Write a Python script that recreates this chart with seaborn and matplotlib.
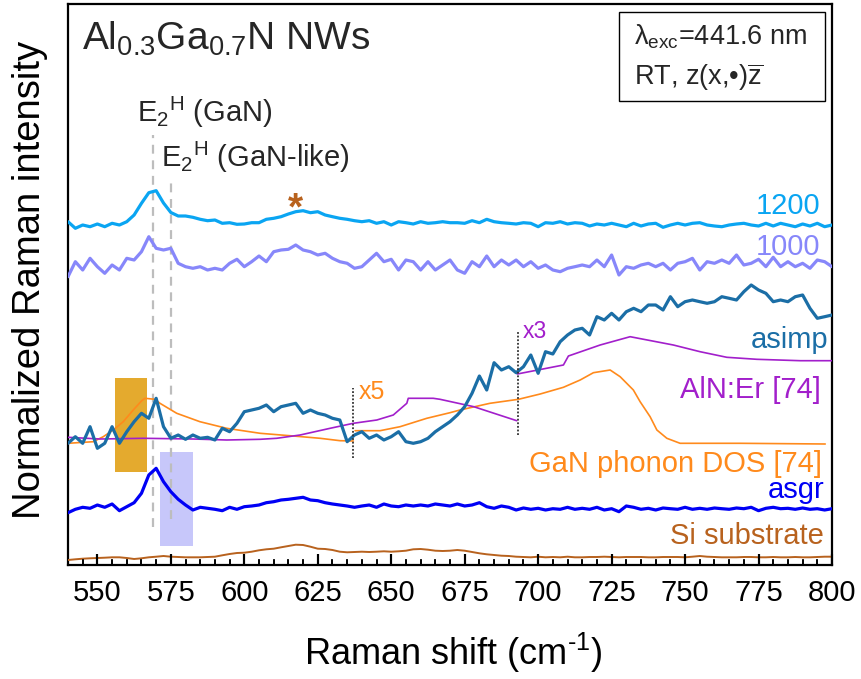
import numpy as np
import pandas as pd
import matplotlib
matplotlib.use("Agg")
import matplotlib.pyplot as plt
from matplotlib.ticker import FixedLocator, NullLocator, NullFormatter
import seaborn as sns

# ---------------- data ----------------
shift = np.arange(540.0, 800.1, 2.5)   # Raman shift grid, cm^-1 (105 points)

i1200 = [343.3, 336.7, 340.0, 338.3, 341.0, 338.3, 341.7, 340.0, 343.3, 350.0,
         361.7, 372.3, 374.3, 362.0, 352.5, 349.0, 349.0, 347.7, 345.7, 344.3,
         345.0, 341.7, 342.3, 340.7, 341.0, 342.3, 342.3, 345.7, 346.7, 348.3,
         351.0, 353.3, 354.3, 352.3, 353.3, 350.0, 348.3, 346.7, 345.7, 344.3,
         343.3, 344.3, 341.7, 343.3, 340.0, 343.3, 342.3, 341.0, 343.3, 341.7,
         342.3, 343.3, 342.3, 342.3, 341.7, 344.3, 342.3, 345.7, 343.3, 342.3,
         341.7, 341.0, 342.3, 341.7, 338.3, 342.3, 341.7, 343.3, 341.0, 342.3,
         341.7, 339.0, 341.0, 340.0, 341.7, 340.0, 338.3, 341.7, 339.0, 341.0,
         341.7, 337.7, 340.0, 341.7, 340.0, 341.7, 342.3, 340.0, 339.0, 338.3,
         340.0, 341.0, 341.7, 340.0, 339.0, 341.7, 339.0, 341.7, 340.0, 338.3,
         341.0, 339.0, 341.7, 338.3, 340.0]

i1000 = [288.3, 303.3, 295.0, 306.7, 298.3, 291.7, 300.0, 295.0, 306.7, 305.0,
         313.3, 328.3, 316.7, 315.0, 316.7, 301.7, 298.3, 296.7, 298.3, 295.0,
         296.7, 295.0, 301.7, 305.7, 298.3, 303.3, 309.0, 303.3, 313.3, 315.0,
         315.7, 320.0, 315.0, 313.3, 310.0, 311.7, 306.7, 303.3, 301.7, 296.7,
         298.3, 305.0, 311.7, 303.3, 305.7, 295.0, 305.0, 303.3, 295.0, 303.3,
         295.0, 300.0, 305.0, 295.0, 291.7, 303.3, 298.3, 309.0, 298.3, 305.0,
         300.0, 305.0, 298.3, 303.3, 296.7, 300.0, 295.0, 293.3, 296.7, 298.3,
         300.0, 298.3, 305.0, 298.3, 310.0, 290.0, 298.3, 296.7, 300.0, 301.7,
         298.3, 301.7, 295.0, 301.7, 303.3, 306.7, 295.0, 303.3, 301.7, 305.0,
         301.7, 310.0, 300.0, 301.7, 305.7, 298.3, 307.7, 298.3, 303.3, 298.3,
         301.7, 296.7, 305.0, 303.3, 298.3]

asimp = [121.7, 128.3, 121.7, 138.3, 116.7, 121.7, 138.3, 121.7, 133.3, 143.3,
         151.7, 146.7, 166.7, 138.3, 126.7, 130.0, 125.7, 130.0, 126.7, 127.7,
         125.0, 136.7, 133.3, 141.7, 153.3, 155.0, 156.7, 160.0, 153.3, 158.3,
         160.0, 161.7, 151.7, 155.0, 151.7, 150.0, 146.7, 145.0, 123.3, 130.0,
         133.3, 126.7, 130.0, 125.0, 128.3, 133.3, 123.3, 121.7, 123.3, 126.7,
         133.3, 138.3, 143.3, 150.0, 158.3, 171.7, 189.0, 175.0, 202.3, 195.0,
         198.3, 192.3, 198.3, 210.0, 191.7, 213.3, 211.0, 223.3, 230.0, 235.0,
         236.7, 230.0, 248.3, 245.0, 251.7, 245.0, 253.3, 256.7, 253.3, 260.0,
         260.0, 255.0, 268.3, 258.3, 263.3, 265.0, 263.3, 261.7, 263.3, 268.3,
         266.7, 265.0, 273.3, 280.0, 275.0, 271.7, 263.3, 265.0, 263.3, 268.3,
         270.0, 256.7, 246.7, 248.3, 250.0]

asgr = [52.3, 55.7, 57.7, 56.7, 60.0, 57.7, 61.0, 54.3, 58.3, 62.3,
        71.7, 90.0, 96.7, 83.3, 73.3, 65.7, 60.0, 55.0, 57.7, 56.7,
        55.7, 54.3, 57.7, 55.7, 58.3, 59.0, 60.0, 62.3, 63.3, 65.0,
        65.7, 66.7, 67.7, 65.0, 64.3, 62.3, 61.0, 60.0, 59.0, 57.7,
        59.0, 60.0, 57.7, 61.0, 59.0, 58.3, 60.0, 59.0, 60.0, 59.0,
        61.0, 60.0, 59.0, 61.0, 59.0, 60.0, 62.3, 58.3, 56.7, 59.0,
        57.7, 55.0, 57.0, 55.7, 56.7, 55.0, 56.3, 55.7, 57.7, 55.7,
        56.7, 55.7, 57.7, 55.0, 56.3, 53.3, 59.0, 57.7, 55.7, 56.7,
        55.0, 57.0, 56.3, 55.7, 57.7, 55.7, 56.7, 55.7, 57.0, 56.3,
        55.7, 57.0, 56.3, 57.7, 54.3, 56.7, 57.7, 56.3, 56.7, 55.7,
        57.0, 55.7, 56.3, 55.0, 56.3]

si_sub = [5.0, 5.7, 6.3, 6.7, 7.0, 7.3, 7.7, 7.7, 7.0, 6.0,
          6.7, 7.7, 8.3, 9.0, 8.3, 8.0, 7.7, 7.7, 7.7, 8.0,
          8.3, 9.7, 11.0, 12.0, 12.3, 13.3, 14.7, 15.7, 16.3, 17.7,
          19.0, 20.3, 20.0, 18.3, 16.3, 16.0, 15.0, 13.3, 12.7, 13.0,
          13.3, 13.0, 13.3, 13.7, 13.3, 13.7, 14.3, 15.7, 16.0, 15.3,
          14.3, 14.0, 14.3, 15.0, 14.3, 13.0, 11.7, 10.7, 10.0, 9.3,
          9.0, 8.3, 8.0, 7.7, 8.3, 7.7, 8.0, 7.7, 8.3, 7.7,
          7.7, 8.0, 8.0, 8.3, 8.0, 7.7, 8.0, 8.0, 8.0, 7.7,
          7.7, 8.0, 8.0, 8.0, 7.7, 8.3, 9.0, 8.3, 8.0, 7.7,
          7.7, 7.7, 8.0, 8.0, 7.7, 7.7, 8.0, 7.7, 7.7, 8.0,
          7.7, 7.7, 8.0, 8.3, 8.3]

# GaN phonon DOS [74], two pieces (x5 scaling from 637 cm^-1)
dos_x1 = [540.0, 548.6, 552.0, 555.4, 558.8, 562.2, 565.1, 566.2, 569.6, 571.3,
          577.0, 584.9, 594.0, 605.4, 616.7, 625.8, 632.6, 637.1]
dos_y1 = [121.7, 123.3, 128.3, 135.0, 143.3, 155.0, 164.3, 166.7, 165.7, 161.7,
          151.7, 143.3, 136.7, 131.7, 129.0, 126.7, 124.3, 124.0]
dos_x2 = [637.7, 646.2, 653.0, 662.1, 670.0, 673.4, 683.6, 693.3, 700.7, 708.6,
          714.3, 718.8, 724.5, 727.9, 732.4, 734.7, 738.1, 740.4, 743.8, 748.3,
          768.7, 797.7]
dos_y2 = [134.3, 134.3, 138.3, 146.7, 152.3, 155.0, 161.7, 165.7, 171.0, 177.7,
          185.0, 192.3, 195.0, 188.3, 175.0, 163.3, 148.3, 135.0, 126.7, 121.7,
          121.7, 121.0]

# AlN:Er [74], two pieces (x3 scaling from 693 cm^-1)
aln_x1 = [540.0, 550.9, 565.6, 582.6, 594.0, 605.4, 611.0, 619.0, 629.2, 637.1,
          645.1, 650.7, 655.3, 655.8, 664.3, 666.6, 678.1, 692.7]
aln_y1 = [127.7, 126.0, 126.7, 126.0, 125.0, 125.7, 126.7, 130.0, 136.7, 141.7,
          145.0, 150.0, 161.7, 166.7, 166.7, 165.7, 158.3, 144.3]
aln_x2 = [692.9, 708.6, 710.3, 721.1, 731.3, 746.0, 755.1, 764.2, 774.4, 789.2, 800.0]
aln_y2 = [191.0, 200.0, 209.0, 220.0, 228.3, 220.0, 213.3, 207.7, 205.7, 204.3, 204.3]

e2h_pos = [569.0, 575.0]          # E2H (GaN), E2H (GaN-like)
scale_pos = [637.0, 693.0]        # x5, x3 break positions
gold_span = (555.9, 567.0)
lav_span = (571.3, 582.4)
xticks = [550, 575, 600, 625, 650, 675, 700, 725, 750, 775, 800]
minor_ticks = [545, 555, 560, 565, 570, 580, 585, 590, 595, 605, 610, 615, 620,
               630, 635, 640, 645, 655, 660, 665, 670, 680, 685, 690, 695, 705,
               710, 715, 720, 730, 735, 740, 745, 755, 760, 765, 770, 780, 785,
               790, 795]

# ---------------- style ----------------
sns.set_style("ticks")
plt.rcParams['font.family'] = ['Liberation Sans', 'DejaVu Sans']
plt.rcParams['mathtext.fontset'] = 'custom'
plt.rcParams['mathtext.rm'] = 'Liberation Sans'
plt.rcParams['mathtext.it'] = 'Liberation Sans:italic'
plt.rcParams['mathtext.bf'] = 'Liberation Sans:bold'

C1200 = '#0AA5F2'
C1000 = '#8787FA'
CASIMP = '#1B6EA6'
CASGR = '#0000F5'
CSI = '#B8621E'
CALN = '#A21FCB'
CDOS = '#FF8A1C'

rect = [68/862, 1-565/679, 764/862, 561/679]
fig = plt.figure(figsize=(8.62, 6.79), dpi=100)
ax = fig.add_axes(rect)

df = pd.DataFrame({'shift': shift, 'i1200': i1200, 'i1000': i1000,
                   'asimp': asimp, 'asgr': asgr, 'si': si_sub})

# shaded spans
ax.axvspan(*gold_span, ymin=0.1658, ymax=0.3333, color='#E4AA2E', lw=0, zorder=0)
ax.axvspan(*lav_span, ymin=0.0339, ymax=0.2014, color='#C7C7FA', lw=0, zorder=0)

# dashed guide lines
ax.axvline(e2h_pos[0], ymin=0.0677, ymax=0.7665, color='#BDBDBD', ls=(0, (4, 3)), lw=1.6, zorder=1)
ax.axvline(e2h_pos[1], ymin=0.082, ymax=0.690, color='#BDBDBD', ls=(0, (4, 3)), lw=1.6, zorder=1)
ax.axvline(scale_pos[0], ymin=0.1907, ymax=0.3155, color='#333333', ls=(0, (1, 1)), lw=1.3, zorder=5)
ax.axvline(scale_pos[1], ymin=0.2317, ymax=0.4171, color='#333333', ls=(0, (1, 1)), lw=1.3, zorder=5)

# reference curves
for xs, ys in ((dos_x1, dos_y1), (dos_x2, dos_y2)):
    sns.lineplot(x=xs, y=ys, ax=ax, color=CDOS, lw=1.2, sort=False, estimator=None, zorder=3)
for xs, ys in ((aln_x1, aln_y1), (aln_x2, aln_y2)):
    sns.lineplot(x=xs, y=ys, ax=ax, color=CALN, lw=1.2, sort=False, estimator=None, zorder=3)

# measured spectra
kw = dict(estimator=None, solid_joinstyle='round')
sns.lineplot(data=df, x='shift', y='si', ax=ax, color=CSI, lw=1.4, zorder=3, **kw)
sns.lineplot(data=df, x='shift', y='asgr', ax=ax, color=CASGR, lw=2.3, zorder=4, **kw)
sns.lineplot(data=df, x='shift', y='asimp', ax=ax, color=CASIMP, lw=2.3, zorder=4, **kw)
sns.lineplot(data=df, x='shift', y='i1000', ax=ax, color=C1000, lw=2.3, zorder=4, **kw)
sns.lineplot(data=df, x='shift', y='i1200', ax=ax, color=C1200, lw=2.3, zorder=4, **kw)

ax.set_xlim(540, 800)
ax.set_ylim(0, 561)
ax.xaxis.set_major_locator(FixedLocator(xticks))
ax.xaxis.set_minor_locator(NullLocator())
ax.yaxis.set_major_locator(NullLocator())
ax.tick_params(axis='x', which='major', direction='in', length=0,
               labelsize=21, pad=10, labelcolor='black')
ax.tick_params(axis='y', left=False, right=False)

for sp in ax.spines.values():
    sp.set_visible(True)
    sp.set_linewidth(1.6)
    sp.set_color('black')

# transparent overlay axes carrying the inward tick marks, drawn on top
tax = fig.add_axes(rect, facecolor='none', zorder=10)
tax.set_xlim(540, 800)
tax.set_ylim(0, 1)
for sp in tax.spines.values():
    sp.set_visible(False)
tax.xaxis.set_major_locator(FixedLocator(xticks))
tax.xaxis.set_minor_locator(FixedLocator(minor_ticks))
tax.xaxis.set_major_formatter(NullFormatter())
tax.yaxis.set_major_locator(NullLocator())
tax.tick_params(axis='x', which='major', direction='in', length=8, width=1.5,
                color='black', bottom=True, top=False, labelbottom=False)
tax.tick_params(axis='x', which='minor', direction='in', length=4, width=1.2,
                color='black', bottom=True, top=False)
tax.tick_params(axis='y', left=False, right=False, labelleft=False)
tax.vlines(xticks, 0.0, 0.019, colors='black', linewidth=1.5)
tax.vlines(minor_ticks, 0.0, 0.0095, colors='black', linewidth=1.2)

ax.set_xlabel(r'Raman shift (cm$^{\mathregular{\text{-1}}}$)', fontsize=26, color='black')
ax.xaxis.set_label_coords(0.504, -0.118)
ax.set_ylabel('Normalized Raman intensity', fontsize=27.5, color='black')
ax.yaxis.set_label_coords(-0.026, 0.508)

# texts
ax.text(544.6, 515, r'$\mathregular{Al_{0.3}Ga_{0.7}N}$ NWs', fontsize=28, va='baseline', ha='left')
ax.text(563.5, 443, r'$\mathregular{E_2{}^H}$ (GaN)', fontsize=21, va='baseline', ha='left')
ax.text(571.7, 398, r'$\mathregular{E_2{}^H}$ (GaN-like)', fontsize=21, va='baseline', ha='left')
ax.text(617.3, 346, '*', fontsize=28, fontweight='bold', color=CSI, ha='center', va='baseline')

ax.add_patch(plt.Rectangle((0.721, 0.827), 0.270, 0.159, transform=ax.transAxes,
                           fill=False, ec='black', lw=1.0, zorder=6))
ax.text(732.6, 521, r'λ$_{\mathregular{exc}}$=441.6 nm', fontsize=19.5, va='baseline', ha='left')
ax.text(732.6, 480, r'RT, z(x,•)$\overline{\mathregular{z}}$', fontsize=19.5, va='baseline', ha='left')

ax.text(796.0, 350.7, '1200', color=C1200, fontsize=21, ha='right', va='baseline')
ax.text(796.0, 310.0, '1000', color=C1000, fontsize=21, ha='right', va='baseline')
ax.text(798.7, 217.0, 'asimp', color=CASIMP, fontsize=21, ha='right', va='baseline')
ax.text(796.3, 166.7, 'AlN:Er [74]', color=CALN, fontsize=21, ha='right', va='baseline')
ax.text(796.6, 93.0, 'GaN phonon DOS [74]', color=CDOS, fontsize=21, ha='right', va='baseline')
ax.text(797.3, 66.7, 'asgr', color=CASGR, fontsize=21, ha='right', va='baseline')
ax.text(797.3, 21.0, 'Si substrate', color=CSI, fontsize=21, ha='right', va='baseline')
ax.text(638.8, 165.7, 'x5', color=CDOS, fontsize=18, ha='left', va='baseline')
ax.text(694.8, 226.7, 'x3', color=CALN, fontsize=16.5, ha='left', va='baseline')

fig.savefig('out.png', dpi=100)
